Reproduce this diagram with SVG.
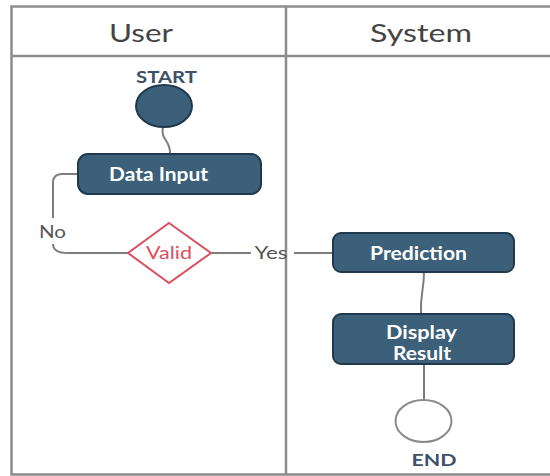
<svg xmlns="http://www.w3.org/2000/svg" width="550" height="476" viewBox="0 0 550 476">
<style>
.frame{fill:none;stroke:#8c8c8c;stroke-width:2.5}
.hdr{font-family:Lato,"Open Sans","Liberation Sans",sans-serif;font-size:25px;fill:#444;text-anchor:middle}
.box{fill:#3c6079;stroke:#1f3a4e;stroke-width:2}
.btxt{font-family:Lato,"Liberation Sans",sans-serif;font-weight:bold;font-size:18px;fill:#fff;text-anchor:middle}
.term{font-family:Lato,"Liberation Sans",sans-serif;font-weight:bold;font-size:17px;fill:#3e5169;text-anchor:middle}
.conn{fill:none;stroke:#7d7d7d;stroke-width:2}
.lbl{font-family:Lato,"Liberation Sans",sans-serif;font-size:17px;fill:#555;text-anchor:middle}
</style>
<rect width="550" height="476" fill="#fff"/>
<g id="lanes">
<path class="frame" d="M550 6.5H11.5V474.5H550M11.5 56H550M286 6.5V474.5"/>
<text class="hdr" x="141" y="42" textLength="64" lengthAdjust="spacingAndGlyphs">User</text>
<text class="hdr" x="421" y="42" textLength="102" lengthAdjust="spacingAndGlyphs">System</text>
</g>
<g id="connectors">
<path class="conn" d="M163 127C160 140 171 140 170 154"/>
<path class="conn" d="M78 174H62Q53 174 53 183V218"/>
<path class="conn" d="M53 244Q53 253 68 253H128"/>
<path class="conn" d="M211 253H251"/>
<path class="conn" d="M294 253H333"/>
<path class="conn" d="M424 272C424 290 420 295 421 314"/>
<path class="conn" d="M424 364V400"/>
<text class="lbl" x="52.5" y="238" textLength="27" lengthAdjust="spacingAndGlyphs">No</text>
<text class="lbl" x="271" y="259" textLength="33" lengthAdjust="spacingAndGlyphs">Yes</text>
</g>
<g id="start">
<text class="term" x="166.5" y="83" textLength="61" lengthAdjust="spacingAndGlyphs">START</text>
<ellipse cx="164" cy="106" rx="28" ry="21" fill="#3c6079" stroke="#1f3a4e" stroke-width="2"/>
</g>
<g id="data-input">
<rect class="box" x="78" y="154" width="183" height="40" rx="10"/>
<text class="btxt" x="158.5" y="181" textLength="99" lengthAdjust="spacingAndGlyphs">Data Input</text>
</g>
<g id="valid">
<polygon points="169,223 211,253 169,283 128,253" fill="#fff" stroke="#d9505e" stroke-width="2"/>
<text x="169" y="259" font-family="Lato,'Liberation Sans',sans-serif" font-size="18" fill="#d9505e" text-anchor="middle" textLength="46" lengthAdjust="spacingAndGlyphs">Valid</text>
</g>
<g id="prediction">
<rect class="box" x="333" y="233" width="181" height="39" rx="8"/>
<text class="btxt" x="418.5" y="260" textLength="97" lengthAdjust="spacingAndGlyphs">Prediction</text>
</g>
<g id="display-result">
<rect class="box" x="333" y="314" width="181" height="50" rx="8"/>
<text class="btxt" x="421.5" y="339" textLength="71" lengthAdjust="spacingAndGlyphs">Display</text>
<text class="btxt" x="422" y="360" textLength="58" lengthAdjust="spacingAndGlyphs">Result</text>
</g>
<g id="end">
<ellipse cx="423.5" cy="421" rx="28" ry="21" fill="#fff" stroke="#8a8a8a" stroke-width="2"/>
<text class="term" x="434" y="466" textLength="45" lengthAdjust="spacingAndGlyphs">END</text>
</g>
</svg>
